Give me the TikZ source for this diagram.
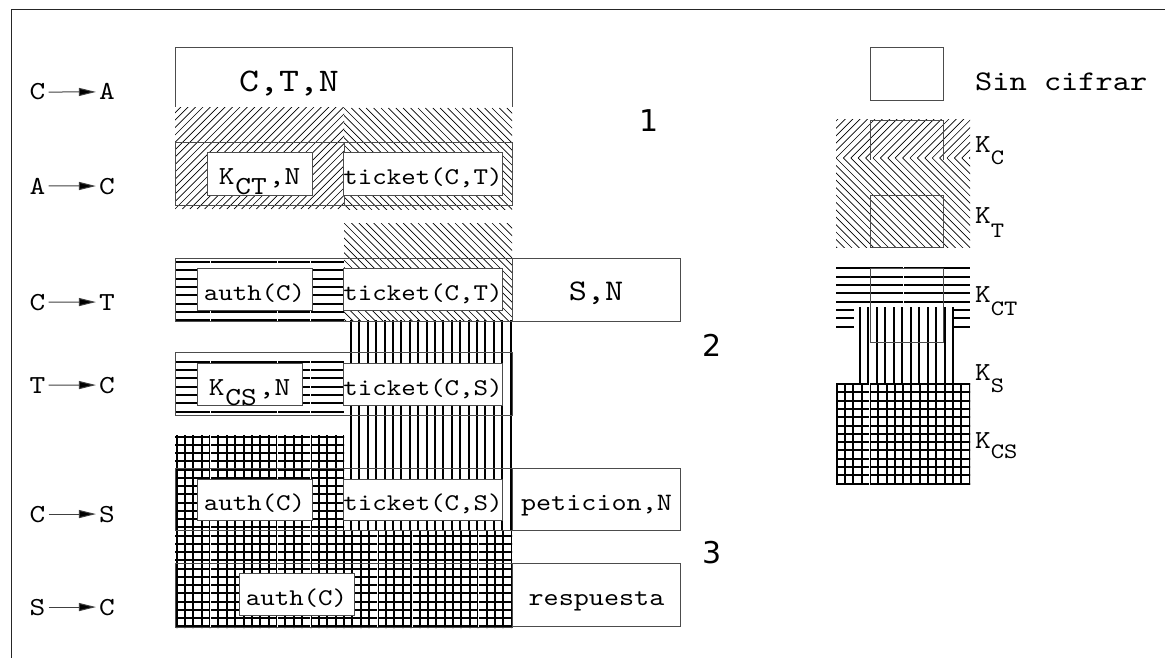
\documentclass[tikz,border=0pt]{standalone}
\usepackage{fontspec}
\newfontfamily\cour{lmmono10-regular.otf}[FakeStretch=1.15]
\newfontfamily\numf{DejaVu Sans}
\usetikzlibrary{arrows.meta}
\newcommand\fs[1]{\fontsize{#1}{#1}\selectfont}
% "/" hatching in rectangle x1,ytop,x2,ybottom
\newcommand\hatchSlash[4]{%
  \begin{scope}
    \clip (#1,#2) rectangle (#3,#4);
    \foreach \i in {-20,...,30} \draw[hatchl] ({#1+\i*7.4},#4) -- ++(130,-130);
  \end{scope}}
% "\" hatching
\newcommand\hatchBack[4]{%
  \begin{scope}
    \clip (#1,#2) rectangle (#3,#4);
    \foreach \i in {-20,...,30} \draw[hatchl] ({#1+\i*7.4},#2) -- ++(130,130);
  \end{scope}}
% horizontal thick lines: x1, y0, x2, last index, step
\newcommand\hLinesK[5]{%
  \foreach \i in {0,...,#4} \draw[thickl] (#1,{#2+\i*#5}) -- (#3,{#2+\i*#5});}
% vertical thick lines: x0, y1, y2, last index, step
\newcommand\vLinesK[5]{%
  \foreach \i in {0,...,#4} \draw[thickl] ({#1+\i*#5},#2) -- ({#1+\i*#5},#3);}
\tikzset{
  frame/.style={draw=black!85,line width=1pt},
  outl/.style={draw=black!70,line width=0.9pt},
  hatchl/.style={line width=0.65pt,black},
  thickl/.style={line width=2pt,black},
  gridl/.style={line width=2pt,black},
  seam/.style={white,line width=0.8pt},
  inbox/.style={draw=black!70,fill=white,line width=0.9pt,inner sep=0pt,
    text height=22pt,text depth=0pt,font=\cour\fs{24}},
  obox/.style={draw=black!70,fill=white,line width=0.9pt,inner sep=0pt,
    text height=22pt,text depth=0pt,font=\cour\fs{25}},
  lab/.style={font=\cour\fs{26},inner sep=3pt,anchor=base},
  labarr/.style={draw=black!75,line width=1pt,-{Triangle[length=17pt,width=8pt,fill=black]}},
  num/.style={font=\numf\fs{30},anchor=base,inner sep=0pt},
  ktxt/.style={font=\cour\fs{26},anchor=base west,inner sep=0pt},
}
\begin{document}
\begin{tikzpicture}[x=1pt,y=-1pt]
\useasboundingbox (0,0) rectangle (1165,658);
\draw[frame] (11,660) -- (11,10) -- (1167,10);

% ---------- left labels ----------
\node[lab] (l1a) at (37.5,100) {C}; \node[lab] (l1b) at (107,100) {A};
\draw[labarr] (l1a) -- (l1b);
\node[lab] (l2a) at (37.5,194) {A}; \node[lab] (l2b) at (107,194) {C};
\draw[labarr] (l2a) -- (l2b);
\node[lab] (l3a) at (37.5,310) {C}; \node[lab] (l3b) at (107,310) {T};
\draw[labarr] (l3a) -- (l3b);
\node[lab] (l4a) at (37.5,393) {T}; \node[lab] (l4b) at (107,393) {C};
\draw[labarr] (l4a) -- (l4b);
\node[lab] (l5a) at (37.5,522) {C}; \node[lab] (l5b) at (107,522) {S};
\draw[labarr] (l5a) -- (l5b);
\node[lab] (l6a) at (37.5,615) {S}; \node[lab] (l6b) at (107,615) {C};
\draw[labarr] (l6a) -- (l6b);

% ---------- row C->A / A->C ----------
\hatchSlash{175}{108}{344}{209}
\hatchBack{344}{108}{512}{209}
\draw[outl] (175,107) -- (175,47) -- (512,47) -- (512,107);
\node[font=\cour\fs{33},anchor=base,inner sep=0pt] (ctn) at (289,92) {C,T,N};
\draw[outl] (175,142) rectangle (512,205);
\draw[outl] (344,142) -- (344,205);
\node[inbox,minimum width=105,minimum height=43] (kct) at (259.5,173.5)
  {\fs{26}K\hspace{1pt}\raisebox{-10pt}{CT}\hspace{2pt},N};
\node[inbox,minimum width=158,minimum height=43] (tct1) at (423,173.5) {ticket(C,T)};

% ---------- row C->T ----------
\hatchBack{344}{223}{512}{320}
\hLinesK{175}{262}{344}{7}{8.3}
\vLinesK{351}{320}{530}{19}{8.4}
\foreach \sx in {210,277,310} \draw[seam] (\sx,259) -- (\sx,322);
\draw[outl] (175,258) rectangle (512,321);
\node[inbox,minimum width=115,minimum height=42] (auth1) at (254.5,289) {auth(C)};
\node[inbox,minimum width=158,minimum height=42] (tct2) at (423,289) {ticket(C,T)};
\node[obox,minimum width=168,minimum height=63,font=\cour\fs{30}] (sn) at (596,289.5) {S,N};

% ---------- row T->C ----------
\begin{scope}
  \clip (175,352) rectangle (344,415);
  \hLinesK{175}{361.7}{344}{6}{8.3}
\end{scope}
\foreach \sx in {210,277,310} \draw[seam] (\sx,353) -- (\sx,415);
\draw[outl] (175,352) rectangle (512,415);
\node[inbox,minimum width=105,minimum height=42] (kcs) at (249.5,384)
  {\fs{26}K\hspace{1pt}\raisebox{-10pt}{CS}\hspace{2pt},N};
\node[inbox,minimum width=158,minimum height=42] (tcs1) at (423,384) {ticket(C,S)};

% ---------- grid K_CS ----------
\begin{scope}
  \clip (175,435) rectangle (344,530) (175,530) rectangle (512,628);
  \foreach \i in {0,...,40} \draw[gridl] ({176.5+\i*8.38},430) -- ({176.5+\i*8.38},632);
  \foreach \j in {0,...,23} \draw[gridl] (170,{436.5+\j*8.25}) -- (515,{436.5+\j*8.25});
  \foreach \sx in {210,277,310,377,412,478} \draw[seam] (\sx,430) -- (\sx,632);
\end{scope}

% ---------- row C->S ----------
\draw[outl] (175,468) rectangle (512,530);
\node[inbox,minimum width=115,minimum height=41] (auth2) at (254.5,499.5) {auth(C)};
\node[inbox,minimum width=158,minimum height=41] (tcs2) at (423,499.5) {ticket(C,S)};
\node[obox,minimum width=168,minimum height=62] (pet) at (596.5,499.5) {peticion,N};

% ---------- row S->C ----------
\draw[outl] (175,563) rectangle (512,627);
\node[inbox,minimum width=115,minimum height=42] (auth3) at (296.5,594) {auth(C)};
\node[obox,minimum width=168,minimum height=63] (resp) at (596.5,594.5) {respuesta};

% ---------- step numbers ----------
\node[num] (n1) at (649,132) {1};
\node[num] (n2) at (712,356) {2};
\node[num] (n3) at (712,563) {3};

% ---------- legend ----------
\node[obox,minimum width=73,minimum height=53] (sc) at (906.5,73.5) {};
\node[ktxt,font=\cour\fs{28.5}] (sctxt) at (975,91) {Sin cifrar};

\hatchSlash{836}{120}{970}{158}
\hatchBack{836}{158}{970}{247}
\draw[outl] (870,160) -- (870,120) -- (943,120) -- (943,160);
\draw[outl] (870,195) rectangle (943,247);

\hLinesK{836}{268.3}{970}{7}{8.35}
\draw[seam] (903,266) -- (903,306);
\fill[white] (854,306) rectangle (953,383);
\vLinesK{860}{307}{383}{11}{8.45}
\draw[outl] (870,268) rectangle (943,342);

\begin{scope}
  \clip (836,383) rectangle (970,484);
  \foreach \i in {0,...,16} \draw[gridl] ({836.7+\i*8.3},380) -- ({836.7+\i*8.3},488);
  \foreach \j in {0,...,12} \draw[gridl] (830,{384+\j*8.3}) -- (975,{384+\j*8.3});
  \draw[seam] (869,380) -- (869,488);
\end{scope}

\node[ktxt] (kc) at (975,153) {K\raisebox{-12pt}{\fs{22}C}};
\node[ktxt] (kt) at (975,223) {K\raisebox{-14pt}{\fs{22}T}};
\node[ktxt] (kctl) at (975,302) {K\raisebox{-13pt}{\fs{22}CT}};
\node[ktxt] (ks) at (975,380) {K\raisebox{-12pt}{\fs{22}S}};
\node[ktxt] (kcsl) at (975,448) {K\raisebox{-10pt}{\fs{22}CS}};
\end{tikzpicture}
\end{document}
